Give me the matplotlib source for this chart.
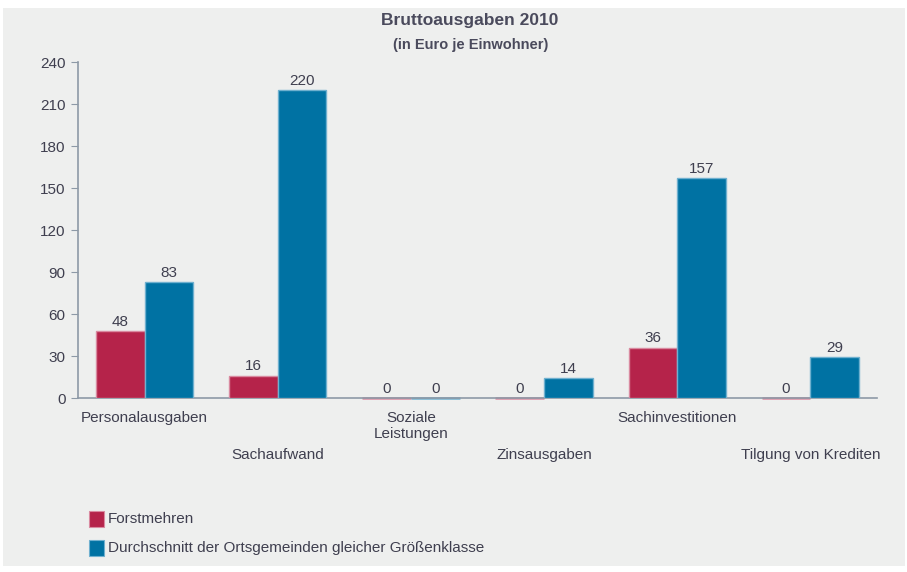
import matplotlib
matplotlib.use("Agg")
import matplotlib.pyplot as plt
from matplotlib.patches import Rectangle
import matplotlib.transforms as mtransforms
import numpy as np

plt.rcParams['font.family'] = ['Liberation Sans', 'DejaVu Sans']

categories = ["Personalausgaben", "Sachaufwand", "Soziale\nLeistungen",
              "Zinsausgaben", "Sachinvestitionen", "Tilgung von Krediten"]
forstmehren = [48, 16, 0, 0, 36, 0]
durchschnitt = [83, 220, 0, 14, 157, 29]
series_names = ["Forstmehren", "Durchschnitt der Ortsgemeinden gleicher Größenklasse"]
yticks = [0, 30, 60, 90, 120, 150, 180, 210, 240]

red = "#b5234a"
blue = "#0072a3"
red_edge = "#d98aa0"
blue_edge = "#6fb0cf"
txt = "#3f3f4f"
axcol = "#8d99a6"
bg = "#eeefee"

fig = plt.figure(figsize=(9.07, 5.72), dpi=100)
fig.patch.set_facecolor("white")
fig.add_artist(Rectangle((3/907, 1-566/572), 902/907, 558/572, transform=fig.transFigure,
                         facecolor=bg, edgecolor="none", zorder=-10))

ax = fig.add_axes([78/907, 1-398/572, 799/907, 336/572])
ax.set_facecolor("none")
x = np.arange(len(categories))
w = 0.365
b1 = ax.bar(x - w/2, forstmehren, w, color=red, edgecolor=red_edge, linewidth=1.0, zorder=3)
b2 = ax.bar(x + w/2, durchschnitt, w, color=blue, edgecolor=blue_edge, linewidth=1.0, zorder=3)

for bars, vals in ((b1, forstmehren), (b2, durchschnitt)):
    for r, v in zip(bars, vals):
        if v == 0:
            r.set_clip_on(False)
            r.set_linewidth(1.8)
            r.set_zorder(1)
        ax.text(r.get_x() + r.get_width()/2, v + 1.5, f"{v}", ha="center", va="bottom",
                fontsize=11, color=txt)

ax.set_xlim(-0.5, len(categories) - 0.5)
ax.set_ylim(0, 240)
ax.set_yticks(yticks)
ax.set_yticklabels([str(t) for t in yticks], fontsize=11, color=txt)
ax.tick_params(axis='y', length=5, color=axcol, pad=4)
ax.set_xticks([])
for s in ("top", "right"):
    ax.spines[s].set_visible(False)
ax.spines["left"].set_color(axcol)
ax.spines["bottom"].set_color(axcol)
ax.spines["left"].set_linewidth(1.2)
ax.spines["bottom"].set_linewidth(1.2)
ax.spines["bottom"].set_zorder(2)

trans = mtransforms.blended_transform_factory(ax.transData, fig.transFigure)
for i, c in enumerate(categories):
    ypix = 411 if i % 2 == 0 else 448
    ax.text(i, 1 - ypix/572, c, transform=trans,
            ha="center", va="top", fontsize=11, color=txt, linespacing=1.2)

fig.text(470/907, 1-20/572, "Bruttoausgaben 2010", ha="center", va="center",
         fontsize=12.5, fontweight="bold", color="#4a4a5c")
fig.text(471/907, 1-45/572, "(in Euro je Einwohner)", ha="center", va="center",
         fontsize=10.5, fontweight="bold", color="#4a4a5c")

for j, (name, col, ec) in enumerate(zip(series_names, [red, blue], [red_edge, blue_edge])):
    yc = 519 + j*29
    fig.add_artist(Rectangle((89/907, 1-(yc+8)/572), 15/907, 16/572, transform=fig.transFigure,
                             facecolor=col, edgecolor=ec, linewidth=0.8))
    fig.text(108/907, 1-yc/572, name, ha="left", va="center", fontsize=11, color=txt)

fig.savefig("out.png", dpi=100, facecolor=fig.get_facecolor())
